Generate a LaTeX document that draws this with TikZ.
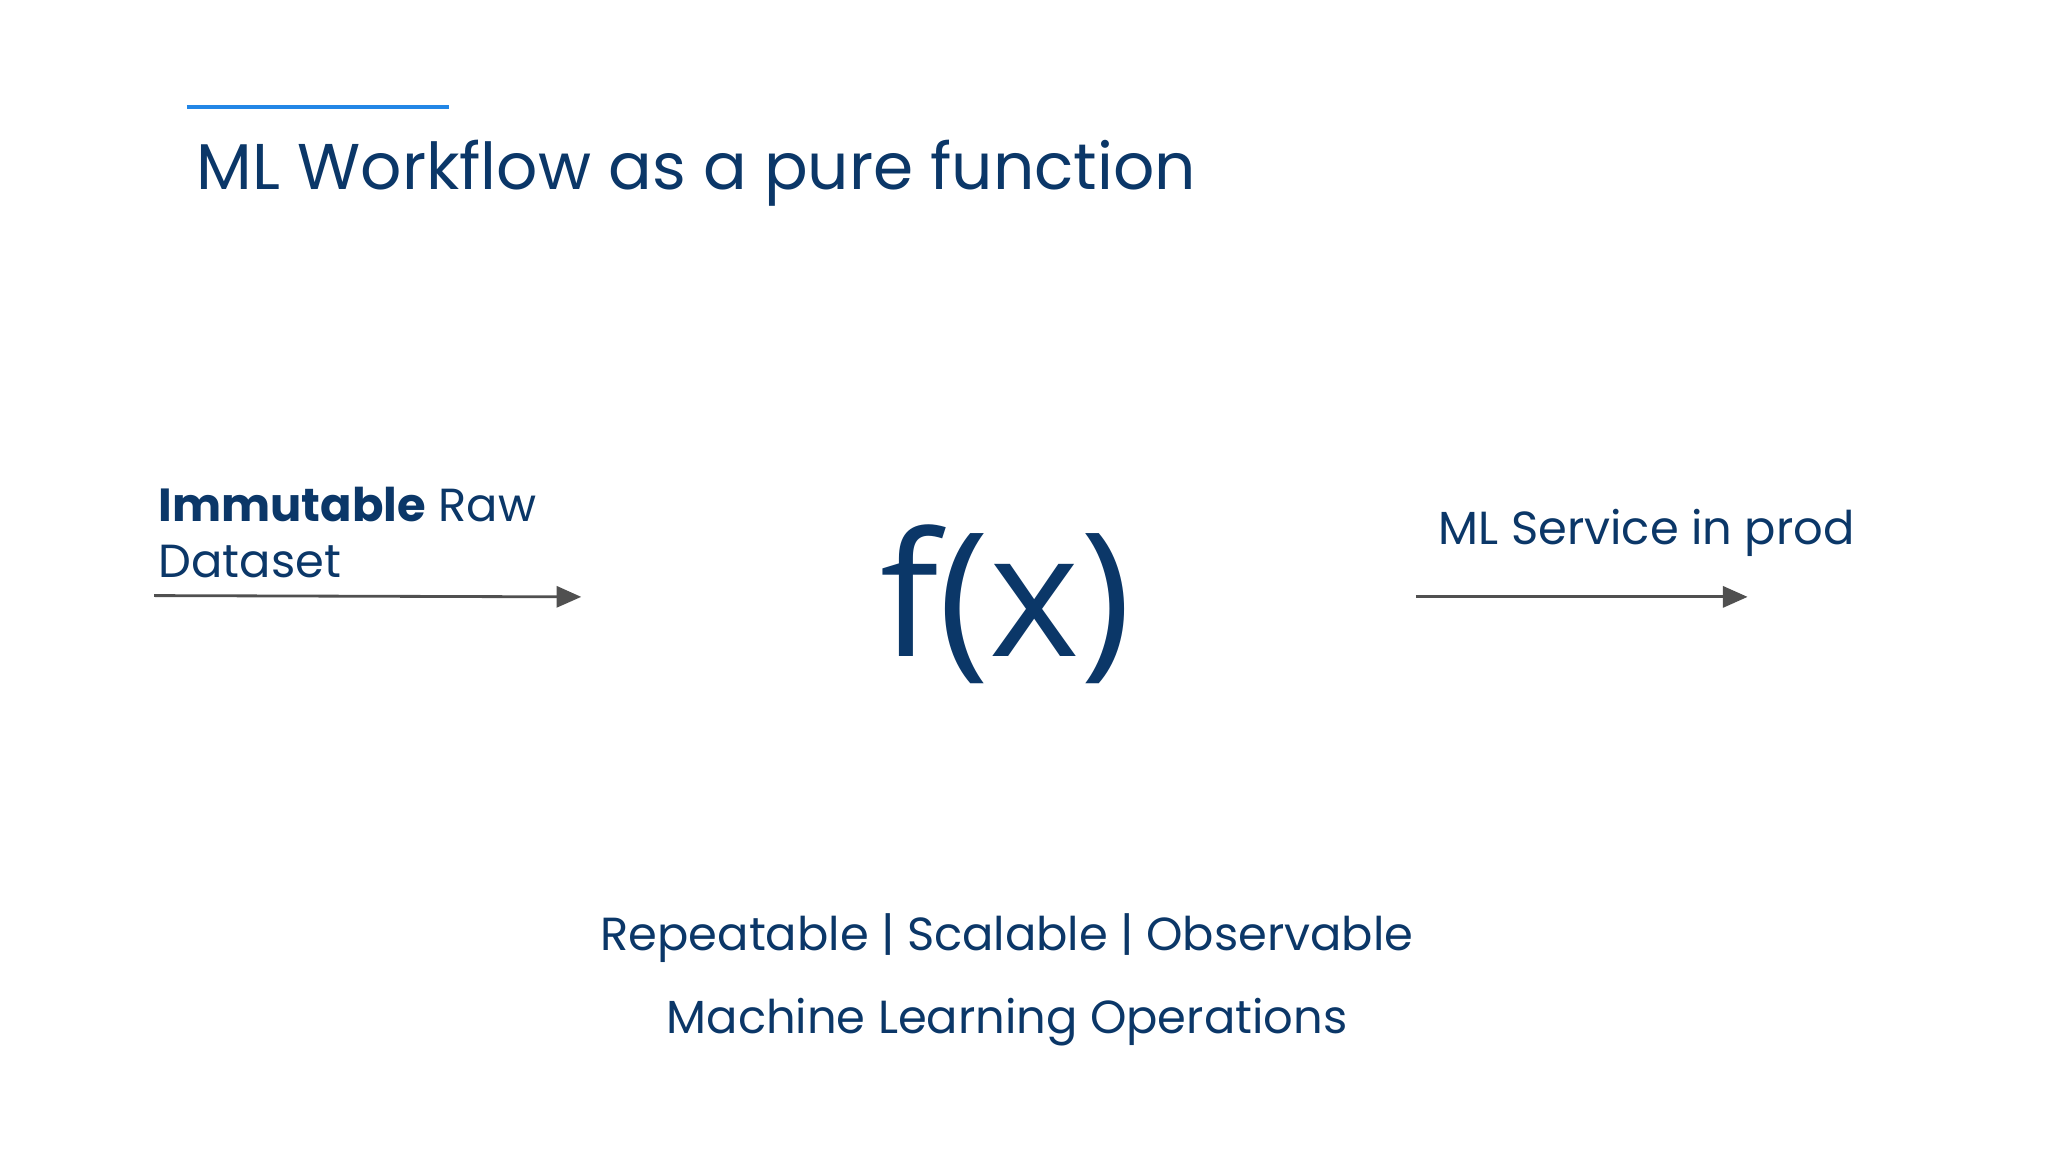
\documentclass[tikz,border=0pt]{standalone}
\usepackage{fontspec}
\setmainfont{Poppins}
\newfontfamily\fxfont{Open Sans}
\usetikzlibrary{arrows.meta}
\definecolor{navy}{HTML}{0B3768}
\definecolor{accent}{HTML}{2286E6}
\definecolor{arrowgray}{HTML}{505050}
\tikzset{
  txt/.style={text=navy, inner sep=0pt},
  body/.style={txt, font=\fontsize{13.2}{16}\selectfont},
  conn/.style={draw=arrowgray, line width=0.8pt, -{Triangle[length=7pt,width=6pt]}}
}
\begin{document}
\begin{tikzpicture}[x=0.013061cm, y=-0.013061cm]
\useasboundingbox (0,0) rectangle (1568,882);
\fill[white] (0,0) rectangle (1568,882);
\draw[accent, line width=1.1pt] (143,82) -- (344,82);
\node[txt, anchor=base west, font=\fontsize{18.4}{22}\selectfont] (title) at (150,145) {ML Workflow as a pure function};
\node[body, anchor=base west] (in) at (121,399) {\textbf{Immutable} Raw};
\node[body, anchor=base west] (in2) at (121,442) {Dataset};
\coordinate (a1s) at (118,456);
\coordinate (a1e) at (445,457);
\draw[conn] (a1s) -- (a1e);
\node[txt, anchor=base, font=\fxfont\fontsize{49}{56}\selectfont] (fx) at (770,503) {f(x)};
\node[body, anchor=base west] (out) at (1101,417) {ML Service in prod};
\coordinate (a2s) at (1084,457);
\coordinate (a2e) at (1338,457);
\draw[conn] (a2s) -- (a2e);
\node[body, anchor=base] (props) at (771,728) {Repeatable | Scalable | Observable};
\node[body, anchor=base] (mlops) at (771,791) {Machine Learning Operations};
\end{tikzpicture}
\end{document}
